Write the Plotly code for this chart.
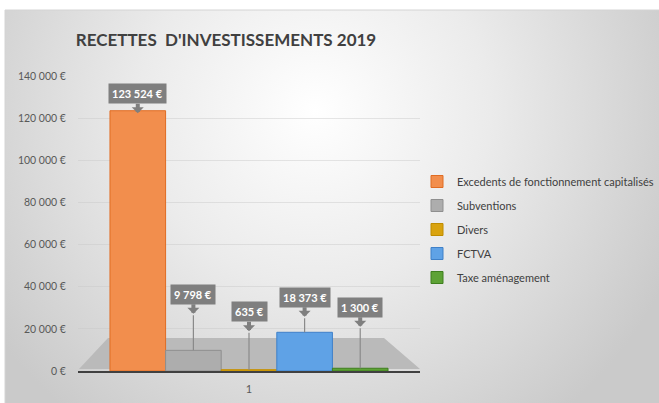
import base64
import plotly.graph_objects as go

# ---------------- data ----------------
categories = ["1"]
series_names = [
    "Excedents de fonctionnement capitalisés",
    "Subventions",
    "Divers",
    "FCTVA",
    "Taxe aménagement",
]
series_values = [123524, 9798, 635, 18373, 1300]
y_tick_values = [0, 20000, 40000, 60000, 80000, 100000, 120000, 140000]
y_tick_labels = ["0 €", "20 000 €", "40 000 €", "60 000 €", "80 000 €",
                 "100 000 €", "120 000 €", "140 000 €"]
title_text = "RECETTES\u00a0 D'INVESTISSEMENTS 2019"

# ---------------- style ----------------
fill_colors = ["#F28E4D", "#ADADAD", "#D9A30F", "#5FA2E6", "#5DA235"]
line_colors = ["#E06C23", "#8F8F8F", "#BF8C00", "#3F80C8", "#3F7F1F"]
label_lift = [17, 56, 58, 35, 61]  # px from bar top to label box centre
FONT = "Lato, Roboto, sans-serif"

W, H = 659, 403
L, R, T, B = 78, 239, 76, 32
plot_w = W - L - R
plot_h = H - T - B
bargap = 0.187


def pxx(px):
    return (px - L) / plot_w


def pxy(py):
    return (H - B - py) / plot_h


def fmt(v):
    return f"{v:,}".replace(",", " ") + " €"


fig = go.Figure()
for name, v, fc, lc in zip(series_names, series_values, fill_colors, line_colors):
    fig.add_trace(go.Bar(
        x=categories, y=[v], name=name, legendgroup=name,
        marker=dict(color=fc, line=dict(color=lc, width=1)),
        hoverinfo="name+y",
    ))

# background gradient of the chart area
svg = (
    "<svg xmlns='http://www.w3.org/2000/svg' width='654' height='393' "
    "viewBox='0 0 654 393' preserveAspectRatio='none'><defs>"
    "<radialGradient id='g' cx='310' cy='100' r='390' gradientUnits='userSpaceOnUse'>"
    "<stop offset='0' stop-color='#ffffff'/><stop offset='0.45' stop-color='#ebebeb'/>"
    "<stop offset='1' stop-color='#cacaca'/></radialGradient></defs>"
    "<rect width='654' height='393' fill='url(#g)'/></svg>"
)
src = "data:image/svg+xml;base64," + base64.b64encode(svg.encode()).decode()

images = [dict(source=src, xref="paper", yref="paper", x=pxx(5), y=pxy(10),
               sizex=654 / plot_w, sizey=393 / plot_h, xanchor="left", yanchor="top",
               sizing="stretch", layer="below")]

shapes = [
    # chart border
    dict(type="rect", xref="paper", yref="paper", x0=pxx(5), x1=pxx(660), y0=pxy(404), y1=pxy(10),
         line=dict(color="#d4d4d4", width=1), layer="below"),
    # 3D floor
    dict(type="path", xref="paper", yref="paper",
         path=f"M {pxx(79)},{pxy(369)} L {pxx(420)},{pxy(369)} L {pxx(384)},{pxy(338)} L {pxx(108)},{pxy(338)} Z",
         fillcolor="#bababa", line=dict(width=0), layer="below"),
]

annotations = []
n = len(series_values)
group_w = 1 - bargap
bar_w = group_w / n
for i, (v, lift) in enumerate(zip(series_values, label_lift)):
    xc = -group_w / 2 + bar_w * (i + 0.5)
    tip = lift - 9.5 - 10
    annotations.append(dict(
        x=xc, y=v, xref="x", yref="y", text=f"<b>{fmt(v)}</b>",
        showarrow=True, arrowhead=1, arrowsize=0.5, arrowwidth=4, arrowcolor="#7f7f7f",
        ax=0, ay=-19.5, yshift=tip, bgcolor="#7f7f7f", borderpad=3,
        font=dict(color="white", size=11, family=FONT),
    ))
    if tip > 2:
        annotations.append(dict(
            x=xc, y=v, xref="x", yref="y", text="", showarrow=True, arrowhead=0,
            arrowwidth=1.2, arrowcolor="#8a8a8a", ax=0, ay=-tip,
        ))

fig.update_layout(
    width=W, height=H, autosize=False,
    margin=dict(l=L, r=R, t=T, b=B, pad=0, autoexpand=False),
    paper_bgcolor="white", plot_bgcolor="rgba(0,0,0,0)",
    barmode="group", bargap=bargap, bargroupgap=0,
    title=dict(text=f"<b>{title_text}</b>", x=pxx(226), xref="paper", xanchor="center",
               y=1 - 40 / H, yanchor="middle",
               font=dict(size=17, color="#404040", family=FONT)),
    font=dict(family=FONT, color="#595959", size=11),
    legend=dict(x=pxx(659), y=pxy(167), xanchor="right", yanchor="top",
                font=dict(size=11, color="#404040", family=FONT),
                bgcolor="rgba(0,0,0,0)", traceorder="grouped", tracegroupgap=5),
    xaxis=dict(showline=True, linecolor="#404040", linewidth=2, showgrid=False,
               ticks="", tickfont=dict(size=11, color="#595959"), fixedrange=True,
               ticklabelstandoff=7),
    yaxis=dict(range=[0, 140000], tickvals=y_tick_values, ticktext=y_tick_labels,
               showgrid=True, gridcolor="rgba(200,200,200,0.45)", zeroline=False,
               showline=False, ticks="outside", ticklen=9, tickcolor="rgba(0,0,0,0)",
               tickfont=dict(size=10.5, color="#595959"), fixedrange=True),
    images=images, shapes=shapes, annotations=annotations,
    showlegend=True,
)

fig.write_html(
    "out.html",
    config={"responsive": False, "displayModeBar": False},
    post_script="document.body.style.margin='0';document.body.style.overflow='hidden';",
)
